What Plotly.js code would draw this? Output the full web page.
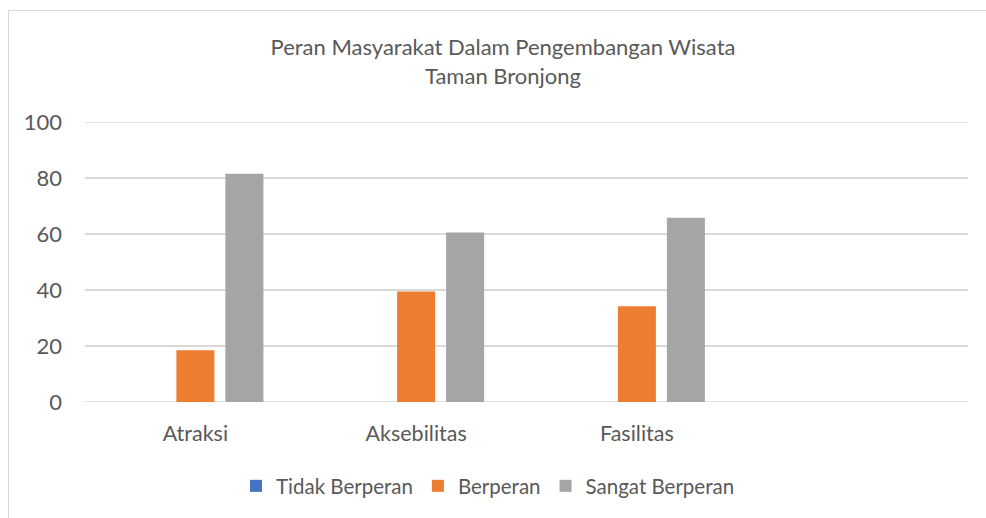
<!DOCTYPE html>
<html>
<head>
<meta charset="utf-8">
<script src="https://cdn.plot.ly/plotly-3.0.1.min.js"></script>
<style>
  html, body { margin: 0; padding: 0; background: #fff; }
  #wrap { position: relative; width: 986px; height: 518px; overflow: hidden; }
  #frame { position: absolute; left: 8px; top: 10px; width: 1000px; height: 600px;
           border-left: 1.5px solid #d9d9d9; border-top: 1.5px solid #d9d9d9; pointer-events: none; }
  #chart { position: absolute; left: 0; top: 0; width: 986px; height: 518px; }
</style>
</head>
<body>
<div id="wrap">
  <div id="chart"></div>
  <div id="frame"></div>
</div>
<script>
const categories = ["Atraksi", "Aksebilitas", "Fasilitas"];
const allCategories = ["Atraksi", "Aksebilitas", "Fasilitas", " "];
const seriesNames = ["Tidak Berperan", "Berperan", "Sangat Berperan"];
const tidakBerperan = [0, 0, 0];
const berperan = [18.5, 39.5, 34.2];
const sangatBerperan = [81.5, 60.5, 65.8];
const yTicks = [0, 20, 40, 60, 80, 100];
const colors = ["#4472c4", "#ed7d31", "#a5a5a5"];

const font = "Lato, 'Open Sans', sans-serif";
const textColor = "#595959";
const gridColor = "#d9d9d9";

const seriesValues = [tidakBerperan, berperan, sangatBerperan];
const traces = seriesValues.map((vals, i) => ({
  type: "bar",
  name: seriesNames[i],
  x: categories,
  y: vals,
  marker: { color: colors[i], line: { width: 0 } },
  hoverinfo: "x+y+name"
}));

// gridlines at the two range ends (Plotly clips grid lines lying on the plot edges)
const edgeTicks = [yTicks[0], yTicks[yTicks.length - 1]];
const edgeLines = edgeTicks.map(v => ({
  type: "line", xref: "paper", yref: "y", x0: 0, x1: 1, y0: v, y1: v,
  line: { color: gridColor, width: 1.5 }, layer: "below"
}));

const layout = {
  width: 986,
  height: 518,
  paper_bgcolor: "rgba(0,0,0,0)",
  plot_bgcolor: "rgba(0,0,0,0)",
  margin: { l: 85, r: 18, t: 122, b: 116 },
  font: { family: font, color: textColor, size: 21 },
  title: {
    text: "Peran Masyarakat Dalam Pengembangan Wisata<br>Taman Bronjong",
    x: 503 / 986,
    xanchor: "center",
    xref: "container",
    y: 1 - 55 / 518,
    yanchor: "middle",
    yref: "container",
    font: { family: font, color: textColor, size: 22 }
  },
  barmode: "group",
  bargap: 0.334,
  bargroupgap: 0.224,
  shapes: edgeLines,
  xaxis: {
    type: "category",
    categoryorder: "array",
    categoryarray: allCategories,
    range: [-0.5, 3.5],
    showgrid: false,
    zeroline: false,
    showline: false,
    ticks: "",
    ticklabelstandoff: 16,
    tickfont: { family: font, color: textColor, size: 21.5 }
  },
  yaxis: {
    range: [yTicks[0], yTicks[yTicks.length - 1]],
    tickvals: yTicks,
    ticktext: yTicks.map(String),
    showgrid: true,
    gridcolor: gridColor,
    gridwidth: 1.5,
    zeroline: false,
    showline: false,
    ticks: "",
    ticklabelstandoff: 22,
    tickfont: { family: font, color: textColor, size: 22 }
  },
  showlegend: true,
  legend: {
    orientation: "h",
    x: 488 / 986,
    xanchor: "center",
    xref: "container",
    y: 1 - 486 / 518,
    yanchor: "middle",
    yref: "container",
    font: { family: font, color: textColor, size: 20.5 },
    traceorder: "normal"
  }
};

Plotly.newPlot("chart", traces, layout, { displayModeBar: false, staticPlot: true });
</script>
</body>
</html>
